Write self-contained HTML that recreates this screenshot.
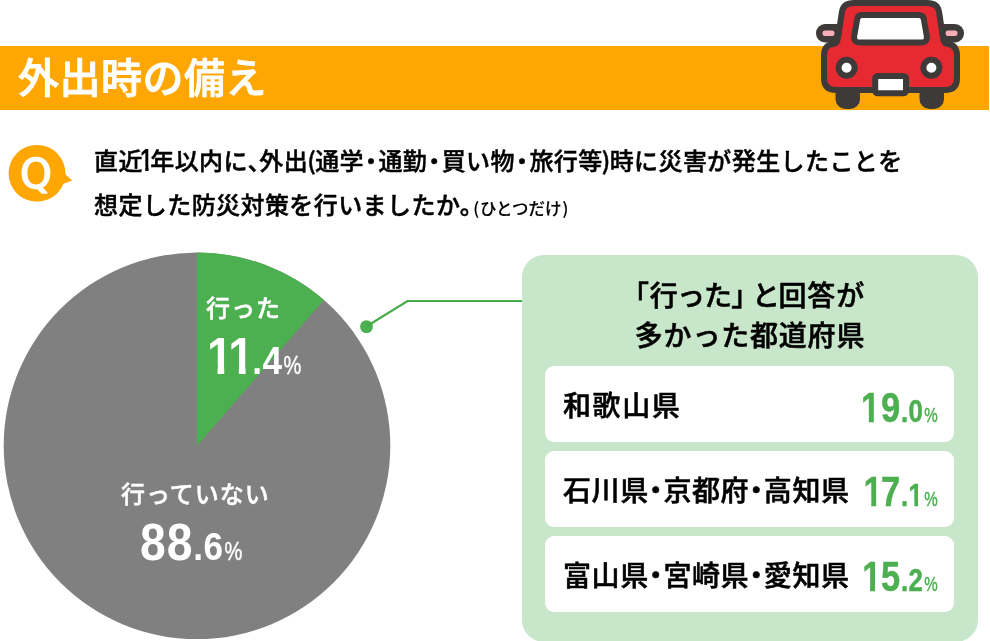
<!DOCTYPE html>
<html lang="ja">
<head>
<meta charset="utf-8">
<title>外出時の備え</title>
<style>
html,body{margin:0;padding:0;background:#fff;}
body{width:990px;height:641px;position:relative;overflow:hidden;
  font-family:"Liberation Sans","Noto Sans CJK JP",sans-serif;color:#000;}
.abs{position:absolute;white-space:nowrap;}
#banner{left:0;top:46px;width:989px;height:64px;background:#fea601;}
#title{left:18px;top:43px;height:64px;line-height:64px;color:#fff;
  font-family:"Noto Sans CJK JP",sans-serif;font-weight:500;-webkit-text-stroke:.9px currentColor;font-size:41px;letter-spacing:.5px;}
.q{font-family:"Noto Sans CJK JP",sans-serif;font-weight:500;-webkit-text-stroke:.45px currentColor;font-size:24px;letter-spacing:.42px;line-height:30px;}
.q .d{margin:0 -5px;}
.q .c{margin:0 -12.5px 0 -.5px;}
.q .p{margin:0 -1px;}
.q .n{display:inline-block;width:8px;letter-spacing:0;font-family:"Liberation Sans",sans-serif;font-weight:700;-webkit-text-stroke:0;font-size:31px;line-height:0;position:relative;top:1px;transform:scaleX(.74);transform-origin:0 50%;margin-left:-2.4px;margin-right:1.8px;}
.q .n b{display:inline-block;font-weight:700;line-height:1;clip-path:polygon(0 0,.373em 0,.373em 1em,.228em 1em,.228em .69em,0 .69em);}
#q1{left:94px;top:144px;}
#q2{left:94px;top:189px;}
.q small{font-size:16.5px;font-weight:500;-webkit-text-stroke:.15px currentColor;letter-spacing:0;margin-left:.5px;position:relative;top:1px;}
.q small .p{margin:0 1px;}
#pie,#car,#qicon,#leader{position:absolute;left:0;top:0;}
.plabel{color:#fff;font-family:"Noto Sans CJK JP",sans-serif;font-weight:500;-webkit-text-stroke:.45px currentColor;font-size:24px;line-height:30px;letter-spacing:1px;}
.num{font-family:"Liberation Sans",sans-serif;font-weight:700;transform-origin:0 0;transform:scaleX(.89);line-height:60px;height:60px;}
.num .b{font-size:52px;letter-spacing:1px;}
.num .m{font-size:39.5px;letter-spacing:.5px;}
.num .p{font-size:25px;font-weight:400;-webkit-text-stroke:.45px currentColor;display:inline-block;transform:scaleX(.9);transform-origin:0 50%;margin-left:1px;}
.num.sm{transform:scaleX(.82);-webkit-text-stroke:.5px currentColor;}
.num.sm .b{font-size:42px;letter-spacing:1px;}
.num.sm .m{font-size:31.5px;letter-spacing:.5px;}
.num.sm .p{font-size:20.5px;}
.num .o{display:inline-block;line-height:1;clip-path:polygon(0 0,.373em 0,.373em 1em,.228em 1em,.228em .69em,0 .69em);}
#box{left:522px;top:255px;width:456px;height:386.5px;background:#c8e6c9;border-radius:22px;}
.row{left:545px;width:409px;height:76px;background:#fff;border-radius:9px;}
.rlabel{font-family:"Noto Sans CJK JP",sans-serif;font-weight:500;-webkit-text-stroke:.55px currentColor;font-size:28px;line-height:76px;letter-spacing:.6px;}
.rlabel .d{margin:0 -7px;}
.btitle{font-family:"Noto Sans CJK JP",sans-serif;font-weight:500;-webkit-text-stroke:.55px currentColor;font-size:28px;line-height:36px;letter-spacing:.8px;}
.btitle .l{margin-left:-17px;}
.btitle .r{margin-right:-17px;}
.g{color:#4caf50;}
</style>
</head>
<body>
<div id="banner" class="abs"></div>
<div id="title" class="abs">外出時の備え</div>

<svg id="car" width="990" height="641" viewBox="0 0 990 641">
  <!-- wheels -->
  <rect x="835.5" y="84" width="24.5" height="25" rx="10" fill="#3e3a39"/>
  <rect x="919.5" y="84" width="24.5" height="25" rx="10" fill="#3e3a39"/>
  <!-- mirrors -->
  <rect x="816" y="24" width="30" height="18.5" rx="9" fill="#3e3a39"/>
  <rect x="934" y="24" width="30" height="18.5" rx="9" fill="#3e3a39"/>
  <rect x="822.5" y="30.5" width="12" height="5.5" rx="2.5" fill="#f6adb7"/>
  <rect x="945.5" y="30.5" width="12" height="5.5" rx="2.5" fill="#f6adb7"/>
  <!-- body -->
  <path d="M854,3 H927 Q937.5,3 939,11.5 L943,38 Q943.8,43.5 948,44 Q957,45 957,56 V78 Q957,90 945,90 H836 Q824,90 824,78 V56 Q824,45 833,44 Q837.2,43.5 838,38 L842,11.5 Q843.5,3 854,3 Z"
        fill="#e72a31" stroke="#3e3a39" stroke-width="6" stroke-linejoin="round"/>
  <!-- window -->
  <path d="M862,15 H919 Q923,15 923.8,19 L926.8,36 Q927.6,42.5 921,42.5 H860 Q853.4,42.5 854.2,36 L857.2,19 Q858,15 862,15 Z"
        fill="#fff" stroke="#3e3a39" stroke-width="6" stroke-linejoin="round"/>
  <!-- lights -->
  <circle cx="846.6" cy="67.7" r="8" fill="#fff" stroke="#3e3a39" stroke-width="6"/>
  <circle cx="931.4" cy="67.7" r="8" fill="#fff" stroke="#3e3a39" stroke-width="6"/>
  <!-- plate -->
  <rect x="875.2" y="76" width="30.8" height="17.3" rx="2.5" fill="#fff" stroke="#3e3a39" stroke-width="6" stroke-linejoin="round"/>
</svg>

<svg id="qicon" width="990" height="641" viewBox="0 0 990 641">
  <circle cx="37" cy="173.3" r="28.4" fill="#fea601"/>
  <path d="M62,172.5 L65.5,174.5 L72.2,180.5 L63,184 Z" fill="#fea601"/>
  <text x="0" y="0" text-anchor="middle" font-family="DejaVu Sans, sans-serif" font-weight="400" font-size="40.5" fill="#fff" stroke="#fff" stroke-width="1.5" stroke-linejoin="round" transform="translate(35.9,187.6) scale(1,1)">Q</text>
</svg>

<div id="q1" class="abs q">直近<span class="n"><b>1</b></span>年以内に<span class="c">、</span>外出<span class="p">(</span>通学<span class="d">・</span>通勤<span class="d">・</span>買い物<span class="d">・</span>旅行等<span class="p">)</span>時に災害が発生したことを</div>
<div id="q2" class="abs q">想定した防災対策を行いましたか<span class="c">。</span><small><span class="p">(</span>ひとつだけ<span class="p">)</span></small></div>

<svg id="pie" width="990" height="641" viewBox="0 0 990 641">
  <circle cx="197" cy="445.8" r="193.3" fill="#808080"/>
  <path d="M197,445.8 L197,252.5 A193.3,193.3 0 0 1 323.9,300.0 Z" fill="#4caf50"/>
  <circle cx="366.5" cy="326.6" r="6.4" fill="#4caf50"/>
  <path d="M366.3,326.5 L407.5,301 H523" fill="none" stroke="#47ab4b" stroke-width="2.2"/>
</svg>

<div class="abs plabel" style="left:206px;top:292px;">行った</div>
<div id="n1" class="abs num" style="left:207px;top:326px;color:#fff;"><span class="b"><span class="o" style="letter-spacing:-5px">1</span><span class="o" style="letter-spacing:-2px">1</span></span><span class="m">.4</span><span class="p">%</span></div>
<div class="abs plabel" style="left:121px;top:478px;">行っていない</div>
<div id="n2" class="abs num" style="left:140px;top:512px;color:#fff;"><span class="b">88</span><span class="m">.6</span><span class="p">%</span></div>

<div id="box" class="abs"></div>
<div id="t1" class="abs btitle" style="left:523.5px;width:456px;top:276px;text-align:center;"><span class="l">「</span><span style="letter-spacing:-.9px">行った</span><span class="r">」</span><span style="margin-left:9px;letter-spacing:-1.4px">と</span>回答が</div>
<div id="t2" class="abs btitle" style="left:522px;width:456px;top:316px;text-align:center;">多かった都道府県</div>

<div class="abs row" style="top:366px;"></div>
<div class="abs row" style="top:451px;"></div>
<div class="abs row" style="top:536px;"></div>

<div id="r1" class="abs rlabel" style="left:563px;top:366px;letter-spacing:1.6px;">和歌山県</div>
<div id="r2" class="abs rlabel" style="left:563px;top:451px;">石川県<span class="d">・</span>京都府<span class="d">・</span>高知県</div>
<div id="r3" class="abs rlabel" style="left:563px;top:536px;">富山県<span class="d">・</span>宮崎県<span class="d">・</span>愛知県</div>

<div id="g1" class="abs num g sm" style="left:861px;top:378px;"><span class="b"><span class="o">1</span>9</span><span class="m">.0</span><span class="p">%</span></div>
<div id="g2" class="abs num g sm" style="left:861px;top:462px;"><span class="b"><span class="o" style="position:relative;left:3px">1</span>7</span><span class="m">.<span class="o">1</span></span><span class="p">%</span></div>
<div id="g3" class="abs num g sm" style="left:861px;top:547px;"><span class="b"><span class="o" style="position:relative;left:1.5px">1</span>5</span><span class="m">.2</span><span class="p">%</span></div>

</body>
</html>
